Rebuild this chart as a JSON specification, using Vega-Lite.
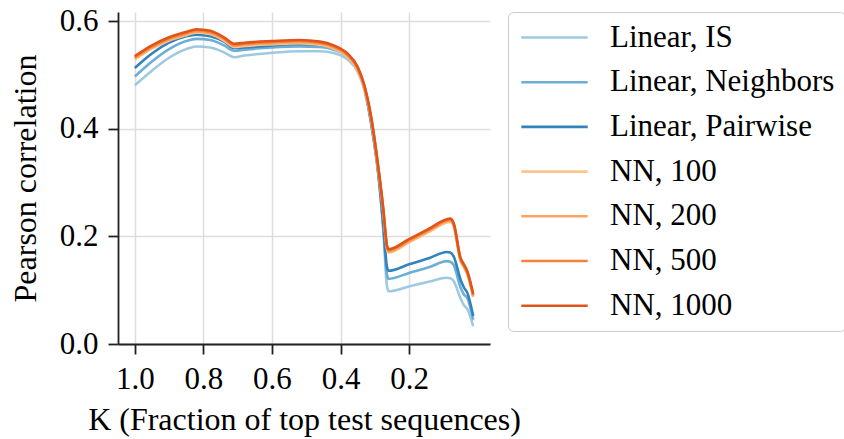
{
  "$schema": "https://vega.github.io/schema/vega-lite/v6.json",
  "autosize": {"type": "none"},
  "width": 372,
  "height": 332,
  "padding": {"left": 118, "top": 12, "right": 354, "bottom": 95},
  "background": "white",
  "config": {
    "view": {"stroke": null},
    "font": "Liberation Serif",
    "axis": {
      "labelFont": "Liberation Serif",
      "titleFont": "Liberation Serif",
      "labelFontSize": 31,
      "titleFontSize": 32,
      "labelColor": "#000",
      "titleColor": "#000",
      "titleFontWeight": "normal",
      "domainColor": "#222",
      "domainWidth": 1.8,
      "tickColor": "#222",
      "tickWidth": 1.8,
      "tickSize": 10,
      "gridColor": "#dddddd",
      "gridWidth": 1.5
    },
    "legend": {
      "labelFont": "Liberation Serif",
      "labelFontSize": 31,
      "labelColor": "#000"
    }
  },
  "data": {
    "values": [
      {"K":1.0,"series":"Linear, IS","r":0.481},{"K":0.95,"series":"Linear, IS","r":0.508},{"K":0.9,"series":"Linear, IS","r":0.532},{"K":0.85,"series":"Linear, IS","r":0.548},{"K":0.82,"series":"Linear, IS","r":0.553},{"K":0.78,"series":"Linear, IS","r":0.551},{"K":0.74,"series":"Linear, IS","r":0.542},{"K":0.71,"series":"Linear, IS","r":0.533},{"K":0.68,"series":"Linear, IS","r":0.536},{"K":0.6,"series":"Linear, IS","r":0.541},{"K":0.52,"series":"Linear, IS","r":0.544},{"K":0.46,"series":"Linear, IS","r":0.544},{"K":0.42,"series":"Linear, IS","r":0.541},{"K":0.38,"series":"Linear, IS","r":0.529},{"K":0.35,"series":"Linear, IS","r":0.506},{"K":0.33,"series":"Linear, IS","r":0.471},{"K":0.31,"series":"Linear, IS","r":0.405},{"K":0.29,"series":"Linear, IS","r":0.315},{"K":0.275,"series":"Linear, IS","r":0.21},{"K":0.265,"series":"Linear, IS","r":0.11},{"K":0.26,"series":"Linear, IS","r":0.098},{"K":0.2,"series":"Linear, IS","r":0.107},{"K":0.14,"series":"Linear, IS","r":0.116},{"K":0.09,"series":"Linear, IS","r":0.123},{"K":0.08,"series":"Linear, IS","r":0.122},{"K":0.07,"series":"Linear, IS","r":0.117},{"K":0.05,"series":"Linear, IS","r":0.085},{"K":0.04,"series":"Linear, IS","r":0.072},{"K":0.03,"series":"Linear, IS","r":0.065},{"K":0.013,"series":"Linear, IS","r":0.033},

      {"K":1.0,"series":"Linear, Neighbors","r":0.497},{"K":0.95,"series":"Linear, Neighbors","r":0.525},{"K":0.9,"series":"Linear, Neighbors","r":0.548},{"K":0.85,"series":"Linear, Neighbors","r":0.563},{"K":0.82,"series":"Linear, Neighbors","r":0.567},{"K":0.78,"series":"Linear, Neighbors","r":0.565},{"K":0.74,"series":"Linear, Neighbors","r":0.555},{"K":0.71,"series":"Linear, Neighbors","r":0.545},{"K":0.68,"series":"Linear, Neighbors","r":0.547},{"K":0.6,"series":"Linear, Neighbors","r":0.551},{"K":0.52,"series":"Linear, Neighbors","r":0.553},{"K":0.46,"series":"Linear, Neighbors","r":0.552},{"K":0.42,"series":"Linear, Neighbors","r":0.547},{"K":0.38,"series":"Linear, Neighbors","r":0.534},{"K":0.35,"series":"Linear, Neighbors","r":0.51},{"K":0.33,"series":"Linear, Neighbors","r":0.475},{"K":0.31,"series":"Linear, Neighbors","r":0.408},{"K":0.29,"series":"Linear, Neighbors","r":0.318},{"K":0.275,"series":"Linear, Neighbors","r":0.215},{"K":0.265,"series":"Linear, Neighbors","r":0.13},{"K":0.26,"series":"Linear, Neighbors","r":0.121},{"K":0.2,"series":"Linear, Neighbors","r":0.132},{"K":0.14,"series":"Linear, Neighbors","r":0.143},{"K":0.09,"series":"Linear, Neighbors","r":0.154},{"K":0.08,"series":"Linear, Neighbors","r":0.153},{"K":0.07,"series":"Linear, Neighbors","r":0.147},{"K":0.05,"series":"Linear, Neighbors","r":0.105},{"K":0.04,"series":"Linear, Neighbors","r":0.092},{"K":0.03,"series":"Linear, Neighbors","r":0.085},{"K":0.013,"series":"Linear, Neighbors","r":0.045},

      {"K":1.0,"series":"Linear, Pairwise","r":0.513},{"K":0.95,"series":"Linear, Pairwise","r":0.54},{"K":0.9,"series":"Linear, Pairwise","r":0.56},{"K":0.85,"series":"Linear, Pairwise","r":0.572},{"K":0.82,"series":"Linear, Pairwise","r":0.575},{"K":0.78,"series":"Linear, Pairwise","r":0.572},{"K":0.74,"series":"Linear, Pairwise","r":0.562},{"K":0.71,"series":"Linear, Pairwise","r":0.55},{"K":0.68,"series":"Linear, Pairwise","r":0.551},{"K":0.6,"series":"Linear, Pairwise","r":0.555},{"K":0.52,"series":"Linear, Pairwise","r":0.557},{"K":0.46,"series":"Linear, Pairwise","r":0.556},{"K":0.42,"series":"Linear, Pairwise","r":0.55},{"K":0.38,"series":"Linear, Pairwise","r":0.537},{"K":0.35,"series":"Linear, Pairwise","r":0.512},{"K":0.33,"series":"Linear, Pairwise","r":0.477},{"K":0.31,"series":"Linear, Pairwise","r":0.41},{"K":0.29,"series":"Linear, Pairwise","r":0.32},{"K":0.275,"series":"Linear, Pairwise","r":0.22},{"K":0.265,"series":"Linear, Pairwise","r":0.145},{"K":0.26,"series":"Linear, Pairwise","r":0.136},{"K":0.2,"series":"Linear, Pairwise","r":0.148},{"K":0.14,"series":"Linear, Pairwise","r":0.16},{"K":0.09,"series":"Linear, Pairwise","r":0.171},{"K":0.08,"series":"Linear, Pairwise","r":0.17},{"K":0.07,"series":"Linear, Pairwise","r":0.163},{"K":0.05,"series":"Linear, Pairwise","r":0.12},{"K":0.04,"series":"Linear, Pairwise","r":0.105},{"K":0.03,"series":"Linear, Pairwise","r":0.095},{"K":0.013,"series":"Linear, Pairwise","r":0.052},

      {"K":1.0,"series":"NN, 100","r":0.529},{"K":0.95,"series":"NN, 100","r":0.549},{"K":0.9,"series":"NN, 100","r":0.564},{"K":0.85,"series":"NN, 100","r":0.574},{"K":0.82,"series":"NN, 100","r":0.579},{"K":0.78,"series":"NN, 100","r":0.576},{"K":0.74,"series":"NN, 100","r":0.564},{"K":0.71,"series":"NN, 100","r":0.552},{"K":0.68,"series":"NN, 100","r":0.554},{"K":0.6,"series":"NN, 100","r":0.557},{"K":0.52,"series":"NN, 100","r":0.559},{"K":0.46,"series":"NN, 100","r":0.556},{"K":0.42,"series":"NN, 100","r":0.549},{"K":0.38,"series":"NN, 100","r":0.534},{"K":0.35,"series":"NN, 100","r":0.509},{"K":0.33,"series":"NN, 100","r":0.474},{"K":0.31,"series":"NN, 100","r":0.414},{"K":0.29,"series":"NN, 100","r":0.324},{"K":0.275,"series":"NN, 100","r":0.244},{"K":0.265,"series":"NN, 100","r":0.179},{"K":0.26,"series":"NN, 100","r":0.17},{"K":0.2,"series":"NN, 100","r":0.189},{"K":0.14,"series":"NN, 100","r":0.209},{"K":0.09,"series":"NN, 100","r":0.226},{"K":0.08,"series":"NN, 100","r":0.227},{"K":0.07,"series":"NN, 100","r":0.219},{"K":0.05,"series":"NN, 100","r":0.154},{"K":0.04,"series":"NN, 100","r":0.142},{"K":0.03,"series":"NN, 100","r":0.129},{"K":0.013,"series":"NN, 100","r":0.087},

      {"K":1.0,"series":"NN, 200","r":0.531},{"K":0.95,"series":"NN, 200","r":0.551},{"K":0.9,"series":"NN, 200","r":0.566},{"K":0.85,"series":"NN, 200","r":0.576},{"K":0.82,"series":"NN, 200","r":0.581},{"K":0.78,"series":"NN, 200","r":0.578},{"K":0.74,"series":"NN, 200","r":0.566},{"K":0.71,"series":"NN, 200","r":0.554},{"K":0.68,"series":"NN, 200","r":0.556},{"K":0.6,"series":"NN, 200","r":0.559},{"K":0.52,"series":"NN, 200","r":0.561},{"K":0.46,"series":"NN, 200","r":0.558},{"K":0.42,"series":"NN, 200","r":0.551},{"K":0.38,"series":"NN, 200","r":0.536},{"K":0.35,"series":"NN, 200","r":0.511},{"K":0.33,"series":"NN, 200","r":0.476},{"K":0.31,"series":"NN, 200","r":0.416},{"K":0.29,"series":"NN, 200","r":0.326},{"K":0.275,"series":"NN, 200","r":0.246},{"K":0.265,"series":"NN, 200","r":0.181},{"K":0.26,"series":"NN, 200","r":0.172},{"K":0.2,"series":"NN, 200","r":0.191},{"K":0.14,"series":"NN, 200","r":0.211},{"K":0.09,"series":"NN, 200","r":0.228},{"K":0.08,"series":"NN, 200","r":0.229},{"K":0.07,"series":"NN, 200","r":0.221},{"K":0.05,"series":"NN, 200","r":0.156},{"K":0.04,"series":"NN, 200","r":0.144},{"K":0.03,"series":"NN, 200","r":0.131},{"K":0.013,"series":"NN, 200","r":0.089},

      {"K":1.0,"series":"NN, 500","r":0.533},{"K":0.95,"series":"NN, 500","r":0.553},{"K":0.9,"series":"NN, 500","r":0.568},{"K":0.85,"series":"NN, 500","r":0.578},{"K":0.82,"series":"NN, 500","r":0.583},{"K":0.78,"series":"NN, 500","r":0.58},{"K":0.74,"series":"NN, 500","r":0.568},{"K":0.71,"series":"NN, 500","r":0.556},{"K":0.68,"series":"NN, 500","r":0.558},{"K":0.6,"series":"NN, 500","r":0.561},{"K":0.52,"series":"NN, 500","r":0.563},{"K":0.46,"series":"NN, 500","r":0.56},{"K":0.42,"series":"NN, 500","r":0.553},{"K":0.38,"series":"NN, 500","r":0.538},{"K":0.35,"series":"NN, 500","r":0.513},{"K":0.33,"series":"NN, 500","r":0.478},{"K":0.31,"series":"NN, 500","r":0.418},{"K":0.29,"series":"NN, 500","r":0.328},{"K":0.275,"series":"NN, 500","r":0.248},{"K":0.265,"series":"NN, 500","r":0.183},{"K":0.26,"series":"NN, 500","r":0.174},{"K":0.2,"series":"NN, 500","r":0.193},{"K":0.14,"series":"NN, 500","r":0.213},{"K":0.09,"series":"NN, 500","r":0.23},{"K":0.08,"series":"NN, 500","r":0.231},{"K":0.07,"series":"NN, 500","r":0.223},{"K":0.05,"series":"NN, 500","r":0.158},{"K":0.04,"series":"NN, 500","r":0.146},{"K":0.03,"series":"NN, 500","r":0.133},{"K":0.013,"series":"NN, 500","r":0.091},

      {"K":1.0,"series":"NN, 1000","r":0.535},{"K":0.95,"series":"NN, 1000","r":0.555},{"K":0.9,"series":"NN, 1000","r":0.57},{"K":0.85,"series":"NN, 1000","r":0.58},{"K":0.82,"series":"NN, 1000","r":0.585},{"K":0.78,"series":"NN, 1000","r":0.582},{"K":0.74,"series":"NN, 1000","r":0.57},{"K":0.71,"series":"NN, 1000","r":0.558},{"K":0.68,"series":"NN, 1000","r":0.56},{"K":0.6,"series":"NN, 1000","r":0.563},{"K":0.52,"series":"NN, 1000","r":0.565},{"K":0.46,"series":"NN, 1000","r":0.562},{"K":0.42,"series":"NN, 1000","r":0.555},{"K":0.38,"series":"NN, 1000","r":0.54},{"K":0.35,"series":"NN, 1000","r":0.515},{"K":0.33,"series":"NN, 1000","r":0.48},{"K":0.31,"series":"NN, 1000","r":0.42},{"K":0.29,"series":"NN, 1000","r":0.33},{"K":0.275,"series":"NN, 1000","r":0.25},{"K":0.265,"series":"NN, 1000","r":0.185},{"K":0.26,"series":"NN, 1000","r":0.176},{"K":0.2,"series":"NN, 1000","r":0.195},{"K":0.14,"series":"NN, 1000","r":0.215},{"K":0.09,"series":"NN, 1000","r":0.232},{"K":0.08,"series":"NN, 1000","r":0.233},{"K":0.07,"series":"NN, 1000","r":0.225},{"K":0.05,"series":"NN, 1000","r":0.16},{"K":0.04,"series":"NN, 1000","r":0.148},{"K":0.03,"series":"NN, 1000","r":0.135},{"K":0.013,"series":"NN, 1000","r":0.093}
    ]
  },
  "mark": {"type": "line", "strokeWidth": 2.6, "interpolate": "monotone"},
  "encoding": {
    "x": {
      "field": "K",
      "type": "quantitative",
      "scale": {"domain": [-0.036, 1.049], "reverse": true, "nice": false, "zero": false},
      "axis": {
        "values": [1.0, 0.8, 0.6, 0.4, 0.2],
        "format": ".1f",
        "title": "K (Fraction of top test sequences)",
        "labelFont": "Liberation Serif",
        "titleFont": "Liberation Serif",
        "labelPadding": 10,
        "titlePadding": 10
      }
    },
    "y": {
      "field": "r",
      "type": "quantitative",
      "scale": {"domain": [0, 0.617], "nice": false, "zero": false},
      "axis": {
        "values": [0, 0.2, 0.4, 0.6],
        "format": ".1f",
        "title": "Pearson correlation",
        "labelFont": "Liberation Serif",
        "titleFont": "Liberation Serif",
        "labelPadding": 10,
        "titleX": -76
      }
    },
    "color": {
      "field": "series",
      "type": "nominal",
      "sort": ["Linear, IS", "Linear, Neighbors", "Linear, Pairwise", "NN, 100", "NN, 200", "NN, 500", "NN, 1000"],
      "scale": {
        "domain": ["Linear, IS", "Linear, Neighbors", "Linear, Pairwise", "NN, 100", "NN, 200", "NN, 500", "NN, 1000"],
        "range": ["#9ecae1", "#6baed6", "#3182bd", "#fdc48c", "#fca363", "#f7813a", "#e0541a"]
      },
      "legend": {
        "title": null,
        "orient": "none",
        "legendX": 390,
        "legendY": 0,
        "strokeColor": "#cccccc",
        "fillColor": "#ffffff",
        "cornerRadius": 5,
        "padding": 10,
        "symbolType": "M-3,0H3",
        "symbolSize": 490,
        "symbolStrokeWidth": 2.6,
        "symbolOffset": 21,
        "labelOffset": 40,
        "labelLimit": 500,
        "labelFont": "Liberation Serif",
        "rowPadding": 12.7
      }
    },
    "order": {"field": "series"}
  }
}
